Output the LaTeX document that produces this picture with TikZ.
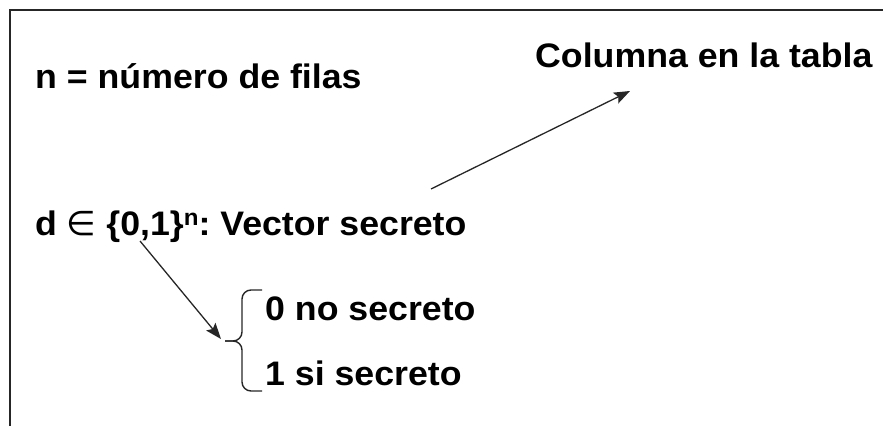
\documentclass[tikz,border=0pt]{standalone}
\usepackage{fontspec}
\setmainfont{Liberation Sans}[FakeStretch=1.05]
\newfontfamily\symfont{DejaVu Sans}
\usetikzlibrary{arrows.meta}

\begin{document}
\frenchspacing
\begin{tikzpicture}[x=1pt,y=1pt,>={Stealth[length=16pt,width=12pt,inset=3pt]},
 lbl/.style={anchor=base west,inner sep=0pt,font=\fontsize{34}{40}\selectfont\bfseries},
 link/.style={->,line width=1.3pt,black!85},
 frame/.style={line width=1.4pt,black!85}]
\useasboundingbox (0,0) rectangle (883,-426);
% open frame of the cropped box
\draw[frame] (10,-426) -- (10,-10) -- (883,-10);
\node[lbl] (rows) at (35,-88) {n = número de filas};
\node[lbl] (col) at (535,-67) {Columna en la tabla};
\node[lbl] (vec) at (35,-235)
 {d {\symfont\mdseries ∈} \{0,1\}\raisebox{10pt}{\fontsize{23}{23}\selectfont n}: Vector secreto};
\node[lbl] (zero) at (265,-320) {0 no secreto};
\node[lbl] (one) at (265,-385) {1 si secreto};
% brace grouping the two values
\draw[line width=1.4pt,black!85,rounded corners=9pt]
 (262,-290) -- (242,-290) -- (242,-341) -- (225,-341);
\draw[line width=1.4pt,black!85,rounded corners=9pt]
 (225,-341) -- (242,-341) -- (242,-391) -- (262,-391);
\coordinate (vecfoot) at (140,-241);
\coordinate (bracetip) at (221,-339);
\coordinate (vectop) at (431,-189);
\coordinate (colfoot) at (630,-91);
\draw[link] (vecfoot) -- (bracetip);
\draw[link] (vectop) -- (colfoot);
\end{tikzpicture}
\end{document}
